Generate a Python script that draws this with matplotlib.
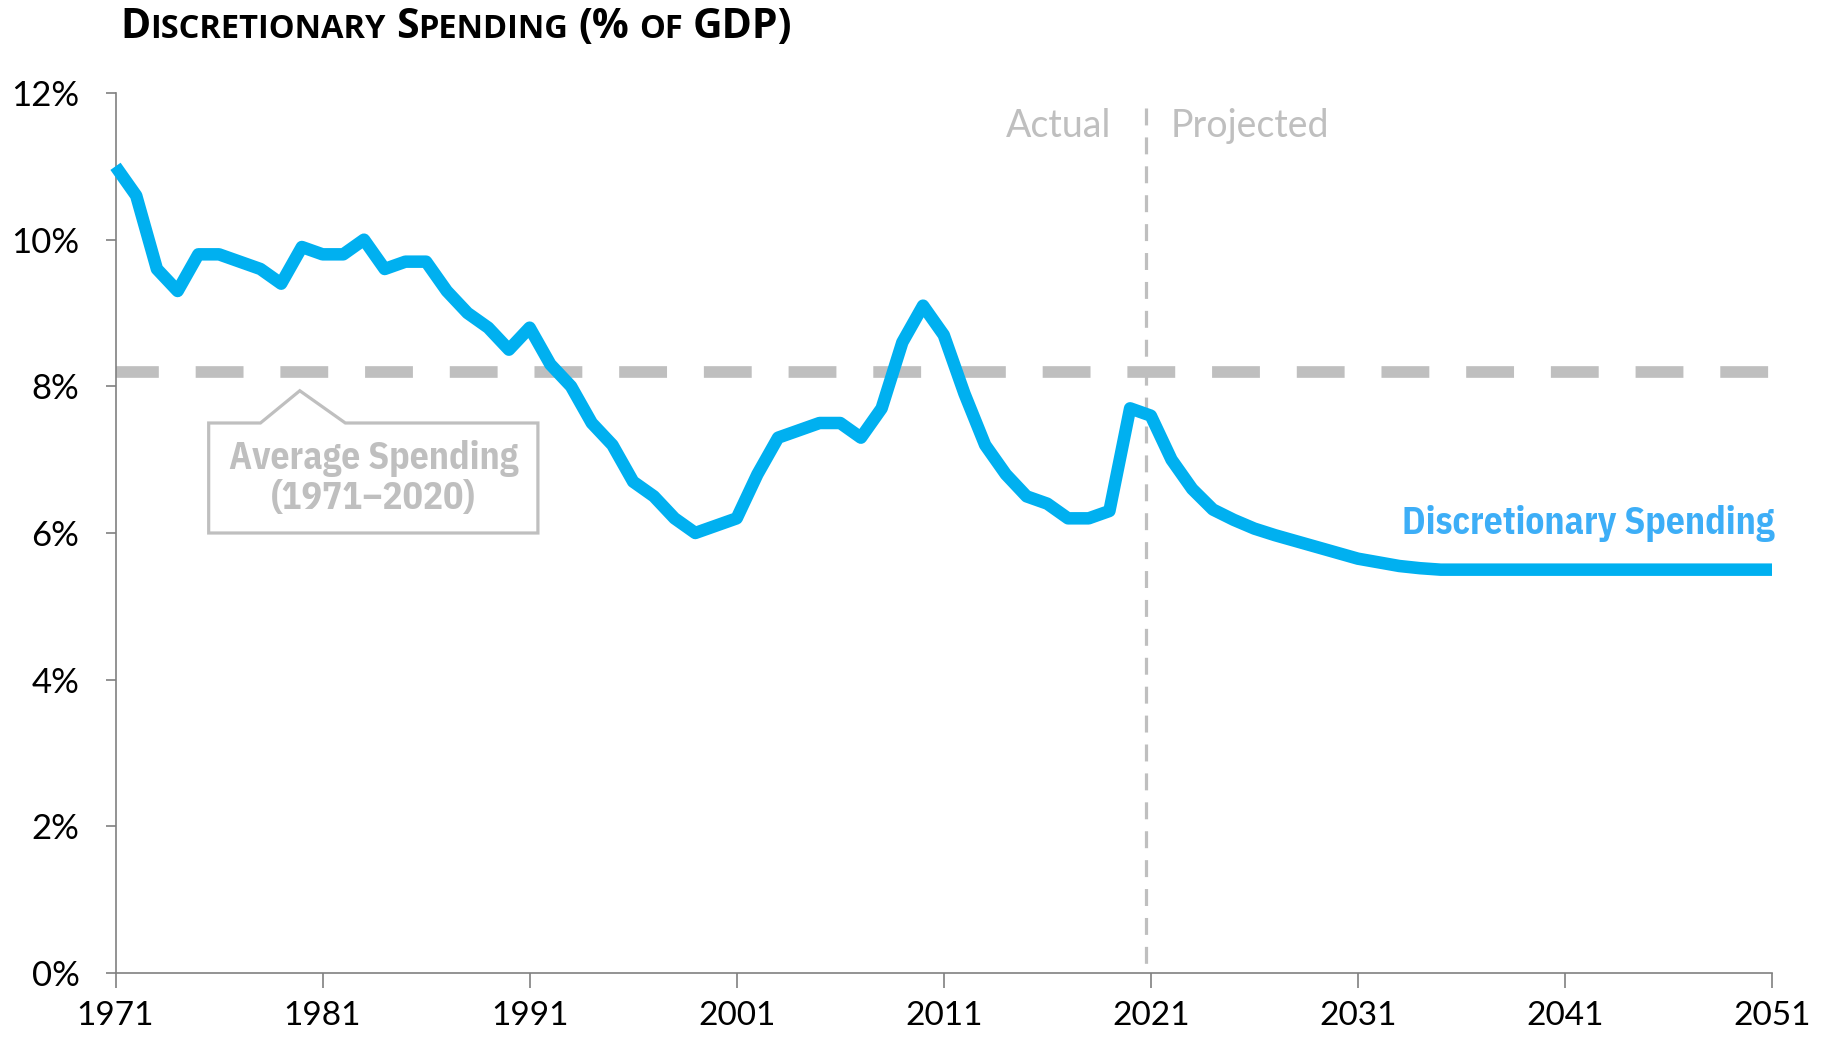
import matplotlib
matplotlib.use("Agg")
import logging
import matplotlib.pyplot as plt
from matplotlib.patches import Polygon

logging.getLogger("matplotlib.font_manager").setLevel(logging.ERROR)

years = list(range(1971, 2052))
spending = [11.0, 10.6, 9.6, 9.3, 9.8, 9.8, 9.7, 9.6, 9.4, 9.9,
            9.8, 9.8, 10.0, 9.6, 9.7, 9.7, 9.3, 9.0, 8.8, 8.5,
            8.8, 8.3, 8.0, 7.5, 7.2, 6.7, 6.5, 6.2, 6.0, 6.1,
            6.2, 6.8, 7.3, 7.4, 7.5, 7.5, 7.3, 7.7, 8.6, 9.1,
            8.7, 7.9, 7.2, 6.8, 6.5, 6.4, 6.2, 6.2, 6.3, 7.7,
            7.6, 7.0, 6.6, 6.32, 6.18, 6.06, 5.97, 5.89, 5.81, 5.73,
            5.65, 5.6, 5.55, 5.52, 5.5, 5.5, 5.5, 5.5, 5.5, 5.5,
            5.5, 5.5, 5.5, 5.5, 5.5, 5.5, 5.5, 5.5, 5.5, 5.5, 5.5]
average = 8.2
split_year = 2020.78

xticks = [1971, 1981, 1991, 2001, 2011, 2021, 2031, 2041, 2051]
yticks = [0, 2, 4, 6, 8, 10, 12]
ytick_labels = ["0%", "2%", "4%", "6%", "8%", "10%", "12%"]

TITLEF = ["Open Sans", "DejaVu Sans"]
BOLDF = ["IBM Plex Sans Condensed", "Open Sans Condensed", "DejaVu Sans"]
LIGHTF = ["Lato", "DejaVu Sans"]
GRAY = "#BFBFBF"
BLUE = "#00B0F0"

W, H = 1829, 1038
fig = plt.figure(figsize=(W / 100, H / 100), dpi=100)
ax = fig.add_axes([115.5 / W, 1 - 973 / H, (1772 - 115.5) / W, (973 - 93) / H])

ax.set_xlim(1971, 2051)
ax.set_ylim(0, 12)

# average line
ax.axhline(average, color=GRAY, lw=8.4, linestyle=(0.43, (4.1, 3.16)),
           dash_capstyle="butt", zorder=2)
# actual / projected split
ax.plot([split_year, split_year], [11.8, 0], color=GRAY, lw=2.3,
        linestyle=(0, (5.3, 3.75)), dash_capstyle="butt", zorder=1)

ax.plot(years, spending, color=BLUE, lw=9, solid_capstyle="butt",
        solid_joinstyle="round", zorder=3, clip_on=False)

# callout box for the average
box = Polygon([(1975.5, 7.5), (1978.0, 7.5), (1979.9, 7.94), (1982.1, 7.5),
               (1991.4, 7.5), (1991.4, 6.0), (1975.5, 6.0)], closed=True,
              fill=False, edgecolor=GRAY, lw=2.3, joinstyle="miter", zorder=2)
ax.add_patch(box)
ax.text(1983.45, 6.74, "Average Spending\n(1971\u20132020)", ha="center", va="center",
        fontsize=27, fontweight="bold", color=GRAY, family=BOLDF, linespacing=1.12)

ax.text(split_year - 1.7, 11.55, "Actual", ha="right", va="center",
        fontsize=27, color=GRAY, family=LIGHTF)
ax.text(split_year + 1.2, 11.55, "Projected", ha="left", va="center",
        fontsize=27, color=GRAY, family=LIGHTF)

ax.text(2051.1, 5.98, "Discretionary Spending", ha="right", va="baseline",
        fontsize=27, fontweight="bold", color="#3DAEF7", family=BOLDF)

for where in ["top", "right"]:
    ax.spines[where].set_visible(False)
for where in ["left", "bottom"]:
    ax.spines[where].set_color("#808080")
    ax.spines[where].set_linewidth(1.2)

ax.set_xticks(xticks)
ax.set_xticklabels([str(x) for x in xticks], fontsize=24, family=LIGHTF)
ax.set_yticks(yticks)
ax.set_yticklabels(ytick_labels, fontsize=25, family=LIGHTF)
ax.tick_params(axis="x", length=11, width=1.2, color="#808080", pad=9.5)
ax.tick_params(axis="y", length=7, width=1.2, color="#808080", pad=19)

# small-caps title
renderer = fig.canvas.get_renderer()
parts = [("D", 29.5), ("ISCRETIONARY", 23.5), (None, 0), ("S", 29.5), ("PENDING", 23.5),
         (None, 0), ("(%", 29.5), (None, 0), ("OF", 23.5), (None, 0), ("GDP)", 29.5)]
x = 120
for txt, size in parts:
    if txt is None:
        x += 10
        continue
    t = fig.text(x / W, 1 - 38 / H, txt, fontsize=size, fontweight="bold",
                 family=TITLEF, va="baseline", ha="left", color="black")
    bb = t.get_window_extent(renderer)
    x = bb.x1

fig.savefig("out.png", dpi=100)
